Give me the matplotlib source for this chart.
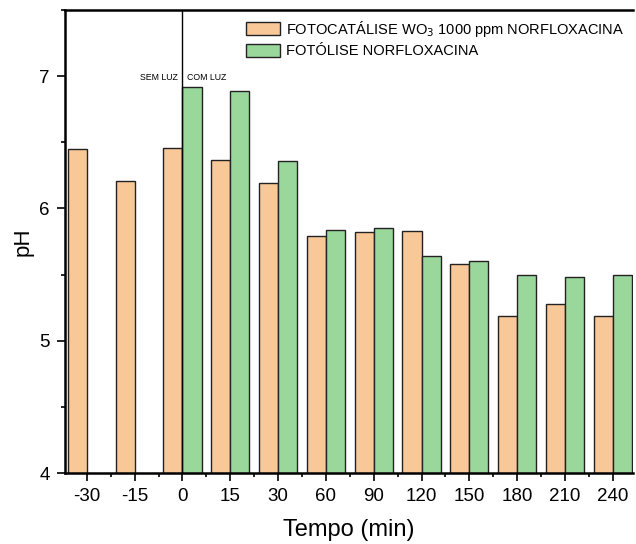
import numpy as np
import matplotlib
matplotlib.use("Agg")
import matplotlib.pyplot as plt

plt.rcParams['font.family'] = ['Liberation Sans', 'DejaVu Sans']

tempos = ['-30', '-15', '0', '15', '30', '60', '90', '120', '150', '180', '210', '240']
ph_wo3 = [6.45, 6.21, 6.46, 6.37, 6.19, 5.79, 5.82, 5.83, 5.58, 5.19, 5.28, 5.19]
ph_fotolise = [np.nan, np.nan, 6.92, 6.89, 6.36, 5.84, 5.85, 5.64, 5.60, 5.50, 5.48, 5.50]

cor_wo3 = '#F9C898'
cor_fot = '#9AD79A'

fig = plt.figure(figsize=(6.36, 5.44), dpi=100)
ax = fig.add_axes([0.102, 0.1305, 0.893, 0.851])

x = np.arange(len(tempos))
w = 0.4
ax.bar(x - w / 2, ph_wo3, w, color=cor_wo3, edgecolor='#222222', linewidth=1,
       label='FOTOCATÁLISE WO$_3$ 1000 ppm NORFLOXACINA')
ax.bar(x + w / 2, ph_fotolise, w, color=cor_fot, edgecolor='#222222', linewidth=1,
       label='FOTÓLISE NORFLOXACINA')

# separacao escuro / luz
ax.axvline(2, color='black', linewidth=1)
ax.text(1.91, 6.99, 'SEM LUZ', fontsize=6.3, ha='right', va='center')
ax.text(2.09, 6.99, 'COM LUZ', fontsize=6.3, ha='left', va='center')

ax.set_xlim(-0.46, 11.42)
ax.set_ylim(4, 7.5)
ax.set_xticks(x)
ax.set_xticklabels(tempos)
ax.set_xticks(x[:-1] + 0.5, minor=True)
ax.set_yticks([4, 5, 6, 7])
ax.set_yticks([4.5, 5.5, 6.5, 7.5], minor=True)
ax.tick_params(axis='both', which='major', direction='out', length=6, width=1.2,
               labelsize=13.5, pad=5)
ax.tick_params(axis='both', which='minor', direction='out', length=3, width=1.2)

for s in ['left', 'bottom', 'top']:
    ax.spines[s].set_linewidth(1.8)
ax.spines['right'].set_visible(False)

ax.set_xlabel('Tempo (min)', fontsize=17, labelpad=10)
ax.set_ylabel('pH', fontsize=16, labelpad=4)

ax.legend(loc='upper right', frameon=False, fontsize=10.5, handlelength=2.3,
          handleheight=1.0, borderaxespad=0.2, labelspacing=0.35, handletextpad=0.4)

fig.savefig('out.png', dpi=100)
